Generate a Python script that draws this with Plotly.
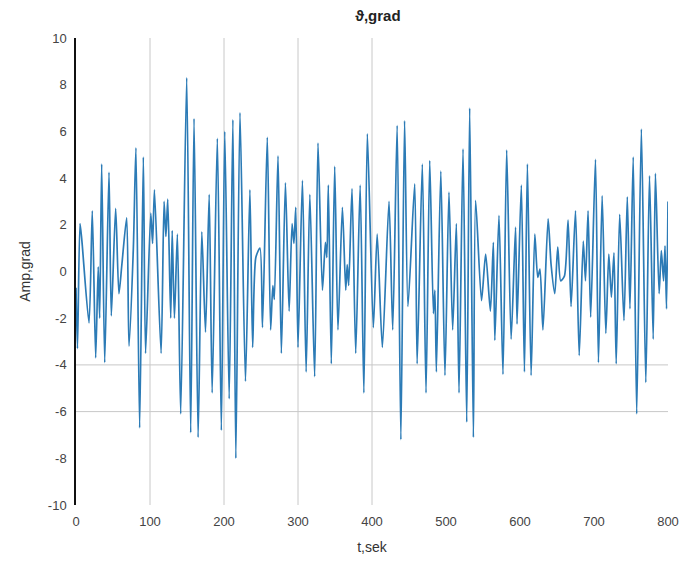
import plotly.graph_objects as go

# Local extrema of the signal (time in s, amplitude in grad)
t_sec = [0, 2, 5.4, 8, 17.6, 22, 26.6, 30, 32, 34.7, 38.8, 44.6, 47.7, 53.6, 58, 62, 68.5, 71.6,
         77.5, 81, 86, 91, 94, 101, 103.5, 106, 115, 119, 121.5, 124, 128, 130, 133, 137, 141.5,
         149.6, 155, 159.5, 165, 170, 175, 180, 184, 191, 196.4, 201, 207, 212, 216, 221.6, 229,
         235, 238.7, 243, 248.6, 252, 258.5, 263, 266, 268, 273, 277.5, 283, 288, 292, 294.5, 297,
         300, 306, 311, 316, 322.5, 327, 333, 337, 339, 341, 345, 349.6, 354, 360, 364.5, 366.5,
         368.5, 373, 378, 384, 389, 393.7, 401.8, 407, 414, 423, 428, 434, 439, 444, 448.6, 457.7,
         461, 468, 473, 478, 483, 485, 487, 493, 498.6, 504, 509, 514, 517.6, 523, 528, 532, 537,
         540, 548, 553.6, 560, 564, 566, 571.6, 577, 582, 588, 594, 596, 601.8, 606, 610, 615, 620,
         624, 627, 631, 638, 642, 647, 651, 655, 660, 665, 669, 675, 680, 685.5, 688.5, 692, 695.5,
         702, 706, 711, 716, 720, 723.5, 727, 730, 734.7, 740.5, 745, 748.6, 753, 757.7, 764, 770,
         775, 780, 783, 788, 791, 794, 796, 798, 800]
amp = [-0.7, -3.3, 2.05, 1.3, -2.2, 2.6, -3.7, 0.2, -2.0, 4.6, -3.9, 4.25, -1.9, 2.7, -0.95, 0.3, 2.3, -3.2,
       1.0, 5.3, -6.7, 4.9, -3.5, 2.5, 1.2, 3.5, -3.5, 3.0, 1.5, 3.1, -2.0, 1.75, -2.0, 1.6, -6.1,
       8.3, -6.9, 6.55, -7.1, 1.7, -2.6, 3.3, -5.2, 5.7, -6.8, 6.0, -5.45, 6.5, -8.0, 6.8, -4.7,
       3.5, -3.25, 0.6, 1.0, -2.4, 5.75, -2.5, -0.6, -1.2, 4.95, -3.5, 3.8, -1.7, 2.05, 1.2, 2.75,
       -3.25, 3.9, -4.3, 3.3, -4.5, 5.5, -0.8, 1.25, 0.6, 3.7, -3.95, 4.5, -2.5, 2.75, -0.8, 0.3,
       -0.6, 3.55, -3.5, 3.7, -5.2, 5.9, -2.4, 1.6, -3.25, 3.0, -2.5, 6.25, -7.2, 6.45, -1.5, 3.75,
       -3.95, 4.6, -5.2, 4.75, -1.8, -0.8, -4.3, 4.3, -4.45, 3.4, -2.5, 2.05, -5.2, 5.25, -6.45, 7.0, -7.1,
       3.05, -1.25, 0.75, -1.7, 1.25, -2.95, 2.4, -4.4, 5.2, -2.9, 1.9, -2.25, 3.7, -4.3, 4.6, -4.45, 1.6,
       -0.25, 0.1, -2.5, 2.25, 0.3, -0.95, 1.05, -0.4, -0.2, 2.2, -1.5, 2.6, -3.6, 1.3, -0.4, 2.6, -1.95,
       4.8, -3.9, 3.25, -2.65, 0.75, -1.1, 0.8, -3.95, 2.45, -2.1, 3.2, -1.6, 4.9, -6.1, 6.1, -4.75,
       4.1, -2.9, 4.2, -0.95, 0.9, -0.4, 1.1, -1.6, 3.0]

x_ticks = [0, 100, 200, 300, 400, 500, 600, 700, 800]
y_ticks = [10, 8, 6, 4, 2, 0, -2, -4, -6, -8, -10]
grid_x = [100, 200, 300, 400]
grid_y = [-4, -6]

fig = go.Figure()
fig.add_trace(go.Scatter(x=t_sec, y=amp, mode="lines",
                         line=dict(color="#2c7bb6", width=1.7, shape="spline", smoothing=0.7),
                         showlegend=False))

shapes = []
for gx in grid_x:
    shapes.append(dict(type="line", xref="x", yref="y", x0=gx, x1=gx, y0=-10, y1=10,
                       line=dict(color="#c8c8c8", width=1), layer="below"))
for gy in grid_y:
    shapes.append(dict(type="line", xref="x", yref="y", x0=0, x1=800, y0=gy, y1=gy,
                       line=dict(color="#c8c8c8", width=1), layer="below"))

font_family = "Liberation Sans, Arial, sans-serif"
fig.update_layout(
    width=672, height=549,
    margin=dict(l=68, r=12, t=30, b=52, autoexpand=False),
    paper_bgcolor="white", plot_bgcolor="white",
    shapes=shapes,
    title=dict(text="<b>ϑ,grad</b>", x=0.51, xanchor="center", xref="paper",
               y=1, yref="container", yanchor="top", pad=dict(t=2),
               font=dict(family=font_family, size=15, color="#222"), automargin=False),
    font=dict(family=font_family, size=13, color="#444"),
    xaxis=dict(range=[0, 800], tickvals=x_ticks, ticktext=[str(v) for v in x_ticks],
               showgrid=False, zeroline=False, showline=False, ticks="", automargin=False,
               ticklabelstandoff=7,
               title=dict(text="t,sek", font=dict(size=14, color="#333"), standoff=14)),
    yaxis=dict(range=[-10, 10], tickvals=y_ticks, ticktext=[str(v) for v in y_ticks],
               showgrid=False, zeroline=False, showline=True, linecolor="#111", linewidth=1.5,
               ticks="", automargin=False, ticklabelstandoff=5,
               title=dict(text="Amp,grad", font=dict(size=14, color="#333"), standoff=14)),
)

fig.write_html("out.html")
